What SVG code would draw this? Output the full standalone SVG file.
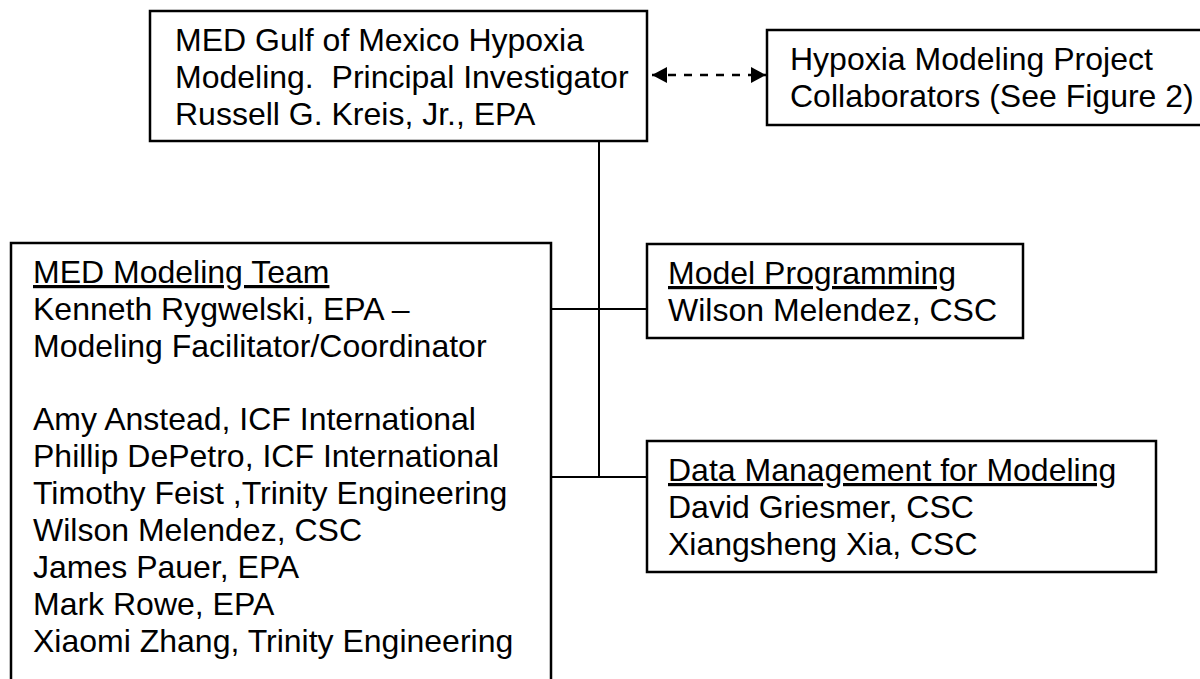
<svg xmlns="http://www.w3.org/2000/svg" width="1200" height="679" viewBox="0 0 1200 679">
  <style>
    .box { fill: #ffffff; stroke: #000000; stroke-width: 2.5; }
    .t { font-family: "Liberation Sans", Arial, sans-serif; font-size: 32px; fill: #000000; white-space: pre; }
    .u { text-decoration: underline; }
    .conn { stroke: #000000; stroke-width: 2; fill: none; }
    .dash { stroke: #000000; stroke-width: 2.5; stroke-dasharray: 8 8; fill: none; }
  </style>
  <defs>
    <marker id="head" viewBox="0 0 15 16" refX="15" refY="8" markerUnits="userSpaceOnUse" markerWidth="15" markerHeight="16" orient="auto-start-reverse">
      <path d="M0,0 L15,8 L0,16 z" fill="#000000"/>
    </marker>
  </defs>

  <g id="connectors">
    <line class="conn" x1="599" y1="141" x2="599" y2="477"/>
    <line class="conn" x1="551" y1="309" x2="647" y2="309"/>
    <line class="conn" x1="551" y1="477" x2="647" y2="477"/>
    <line class="dash" x1="652" y1="75" x2="766" y2="75" marker-start="url(#head)" marker-end="url(#head)"/>
  </g>

  <g id="pi">
    <rect class="box" x="150" y="11" width="497" height="130"/>
    <text class="t" x="175" y="51">MED Gulf of Mexico Hypoxia</text>
    <text class="t" x="175" y="88" xml:space="preserve">Modeling.  Principal Investigator</text>
    <text class="t" x="175" y="125">Russell G. Kreis, Jr., EPA</text>
  </g>

  <g id="collaborators">
    <rect class="box" x="767" y="30" width="440" height="95"/>
    <text class="t" x="790" y="70">Hypoxia Modeling Project</text>
    <text class="t" x="790" y="107">Collaborators (See Figure 2)</text>
  </g>

  <g id="team">
    <rect class="box" x="11" y="243" width="540" height="450"/>
    <text class="t u" x="33" y="283">MED Modeling Team</text>
    <text class="t" x="33" y="320">Kenneth Rygwelski, EPA –</text>
    <text class="t" x="33" y="357">Modeling Facilitator/Coordinator</text>
    <text class="t" x="33" y="430">Amy Anstead, ICF International</text>
    <text class="t" x="33" y="467">Phillip DePetro, ICF International</text>
    <text class="t" x="33" y="504">Timothy Feist ,Trinity Engineering</text>
    <text class="t" x="33" y="541">Wilson Melendez, CSC</text>
    <text class="t" x="33" y="578">James Pauer, EPA</text>
    <text class="t" x="33" y="615">Mark Rowe, EPA</text>
    <text class="t" x="33" y="652">Xiaomi Zhang, Trinity Engineering</text>
  </g>

  <g id="programming">
    <rect class="box" x="647" y="244" width="376" height="94"/>
    <text class="t u" x="668" y="284">Model Programming</text>
    <text class="t" x="668" y="321">Wilson Melendez, CSC</text>
  </g>

  <g id="datamgmt">
    <rect class="box" x="647" y="441" width="509" height="131"/>
    <text class="t u" x="668" y="481">Data Management for Modeling</text>
    <text class="t" x="668" y="518">David Griesmer, CSC</text>
    <text class="t" x="668" y="555">Xiangsheng Xia, CSC</text>
  </g>
</svg>
